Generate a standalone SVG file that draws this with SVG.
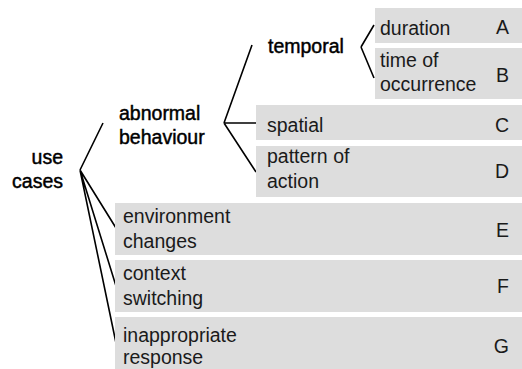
<svg xmlns="http://www.w3.org/2000/svg" width="522" height="369" viewBox="0 0 522 369">
<style>
text{font-family:"Liberation Sans",Arial,sans-serif;font-size:19.5px;fill:#1a1a1a}
.n{fill:#000;stroke:#000;stroke-width:0.45}
.lt{text-anchor:end}
.b{fill:#dddddd}
.c{stroke:#000;stroke-width:1.6;fill:none}
</style>
<rect width="522" height="369" fill="#fff"/>
<g id="connectors">
<path class="c" d="M80 170 L103 123 M80 170 L116 228 M80 170 L116 286 M80 170 L116 343"/>
<path class="c" d="M224 123 L252 45 M224 123 L256 123 M224 123 L256 172"/>
<path class="c" d="M361 47 L374 25 M361 47 L374 78"/>
</g>
<g id="use-cases"><text class="n lt" x="63" y="164">use</text><text class="n lt" x="63" y="188">cases</text></g>
<g id="abnormal-behaviour"><text class="n" x="119" y="120">abnormal</text><text class="n" x="119" y="144">behaviour</text></g>
<g id="temporal"><text class="n" x="268" y="53">temporal</text></g>
<g id="duration"><rect class="b" x="375" y="8" width="147" height="35"/><text x="380" y="35">duration</text><text class="lt" x="509" y="34">A</text></g>
<g id="time-of-occurrence"><rect class="b" x="375" y="48" width="147" height="51"/><text x="380" y="67">time of</text><text x="380" y="91">occurrence</text><text class="lt" x="509" y="82">B</text></g>
<g id="spatial"><rect class="b" x="256" y="105" width="266" height="35"/><text x="267" y="132">spatial</text><text class="lt" x="509" y="132">C</text></g>
<g id="pattern-of-action"><rect class="b" x="256" y="146" width="266" height="51"/><text x="267" y="163">pattern of</text><text x="267" y="188">action</text><text class="lt" x="509" y="178">D</text></g>
<g id="environment-changes"><rect class="b" x="115" y="203" width="407" height="52"/><text x="123" y="223">environment</text><text x="123" y="248">changes</text><text class="lt" x="509" y="237">E</text></g>
<g id="context-switching"><rect class="b" x="115" y="260" width="407" height="52"/><text x="123" y="280">context</text><text x="123" y="305">switching</text><text class="lt" x="509" y="293">F</text></g>
<g id="inappropriate-response"><rect class="b" x="115" y="317" width="407" height="52"/><text x="123" y="342">inappropriate</text><text x="123" y="364">response</text><text class="lt" x="509" y="353">G</text></g>
</svg>
